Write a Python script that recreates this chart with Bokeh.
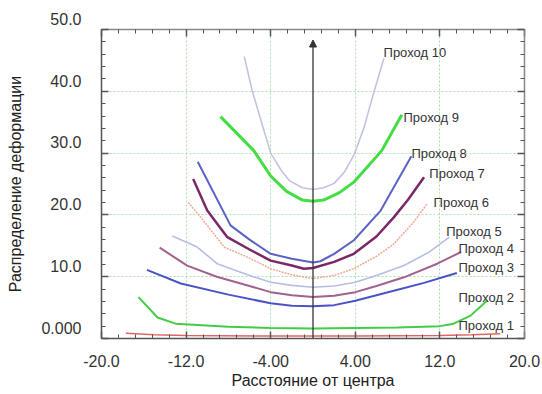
from bokeh.plotting import figure
from bokeh.models import (FixedTicker, LinearAxis, Range1d, Arrow,
                          NormalHead, ColumnDataSource)
from bokeh.core.properties import value
from bokeh.embed import file_html
from bokeh.resources import INLINE

# ---------------- data ----------------
p1_x = [-17.7, -15, -12, -4, 0, 4, 12, 15, 17.7]
p1_y = [0.85, 0.6, 0.5, 0.4, 0.4, 0.4, 0.5, 0.6, 0.75]
p2_x = [-16.5, -14.7, -13.0, -8, -4, 0, 4, 8, 12, 13.3, 14.9, 16.5]
p2_y = [6.7, 3.4, 2.4, 1.9, 1.7, 1.6, 1.7, 1.8, 2.0, 2.4, 3.7, 6.2]
p3_x = [-15.7, -12.5, -8, -4, -2, 0, 2, 4, 8, 10.5, 13.6]
p3_y = [11.1, 8.9, 7.1, 5.7, 5.3, 5.2, 5.4, 6.1, 7.9, 9.0, 10.6]
p4_x = [-14.5, -11.9, -9.1, -6, -4, -2, 0, 2, 4, 6, 8.6, 11.75, 14.0]
p4_y = [14.7, 11.8, 10.0, 8.5, 7.5, 7.0, 6.7, 6.9, 7.5, 8.5, 9.9, 12.1, 14.0]
p5_x = [-13.3, -10.95, -9.06, -6, -4, -2, 0, 2, 4, 6, 8.6, 11, 12.9]
p5_y = [16.6, 14.8, 12.1, 10.2, 9.1, 8.6, 8.3, 8.5, 9.1, 10.2, 11.8, 14.0, 16.4]
p6_x = [-11.8, -10.6, -8.4, -6, -4, -2, 0, 2, 3.86, 6, 7.64, 9.5, 10.8]
p6_y = [22.0, 19.6, 14.8, 13.0, 11.3, 10.3, 9.7, 10.2, 11.3, 13.3, 15.3, 18.8, 21.8]
p7_x = [-11.33, -10.0, -8.1, -6, -4, -2, -0.87, 0, 2, 3.86, 6, 7.64, 9, 10.5]
p7_y = [25.8, 20.7, 16.4, 14.4, 12.6, 11.8, 11.3, 11.4, 12.4, 13.7, 16.5, 19.6, 22.5, 26.1]
p8_x = [-10.9, -7.8, -6, -4, -2, 0, 0.7, 2, 3.86, 6.4, 9.3]
p8_y = [28.6, 18.3, 16.0, 13.7, 12.9, 12.3, 12.5, 13.7, 15.9, 20.7, 29.5]
p9_x = [-8.75, -5.6, -4, -2.5, -1, 0, 1, 2.5, 3.86, 6.5, 8.4]
p9_y = [35.9, 30.4, 26.3, 23.8, 22.4, 22.2, 22.4, 23.6, 25.3, 30.4, 36.2]
p10_x = [-6.5, -5.75, -4.8, -4.0, -3.0, -2.2, -1, 0, 1, 2, 3, 3.9, 4.8, 5.7, 6.7]
p10_y = [45.6, 40.1, 34.6, 30.0, 27.2, 25.5, 24.4, 24.1, 24.4, 25.1, 27.0, 29.8, 34.0, 39.5, 45.3]

series_names = ["Проход 1", "Проход 2", "Проход 3", "Проход 4", "Проход 5",
                "Проход 6", "Проход 7", "Проход 8", "Проход 9", "Проход 10"]
label_x = [13.76, 13.76, 13.76, 13.76, 12.6, 11.4, 11.0, 9.31, 8.56, 6.67]
label_y = [2.1, 6.6, 11.5, 14.6, 17.3, 22.0, 26.7, 29.9, 35.8, 46.3]

x_ticks = [-20, -12, -4, 4, 12, 20]
x_tick_labels = ["-20.0", "-12.0", "-4.00", "4.00", "12.0", "20.0"]
y_ticks = [0, 10, 20, 30, 40, 50]
y_tick_labels = ["0.000", "10.0", "20.0", "30.0", "40.0", "50.0"]

arrow_x = 0
arrow_y0 = 0
arrow_y1 = 48.3

# ---------------- styles ----------------
FONT = "Liberation Sans"
colors = ["#e06464", "#44cc44", "#4a52c8", "#a0628e", "#b6bee6",
          "#f0a894", "#7a2868", "#5a62c4", "#44dd44", "#c2c2e2"]
widths = [1.5, 2, 2, 2, 1.6, 1.5, 2.5, 2, 3, 1.6]
dashes = ["solid", "solid", "solid", "solid", "solid",
          "2 1", "solid", "solid", "solid", "solid"]

p = figure(width=542, height=394, x_range=Range1d(-20, 20), y_range=Range1d(0, 50),
           output_backend="svg", toolbar_location=None,
           x_axis_location=None, y_axis_location=None,
           min_border_left=101, min_border_right=18, min_border_top=29,
           min_border_bottom=56)
p.outline_line_color = "#777777"
p.background_fill_color = "white"
p.border_fill_color = "white"

minor_x = [round(-20 + 1.6 * i, 2) for i in range(26)]
minor_y = [2 * i for i in range(26)]

bottom = LinearAxis()
left = LinearAxis()
top = LinearAxis()
right = LinearAxis()
p.add_layout(bottom, "below")
p.add_layout(left, "left")
p.add_layout(top, "above")
p.add_layout(right, "right")

for ax in [bottom, top]:
    ax.ticker = FixedTicker(ticks=x_ticks, minor_ticks=minor_x)
for ax in [left, right]:
    ax.ticker = FixedTicker(ticks=y_ticks, minor_ticks=minor_y)

for ax in [bottom, top, left, right]:
    ax.major_tick_in = 7
    ax.major_tick_out = 0
    ax.minor_tick_in = 4
    ax.minor_tick_out = 0
    ax.axis_line_color = "#555555"
    ax.major_tick_line_color = "#555555"
    ax.minor_tick_line_color = "#555555"
    ax.axis_line_width = 1.5
    ax.major_tick_line_width = 1.5

top.major_label_overrides = {t: "" for t in x_ticks}
right.major_label_overrides = {t: "" for t in y_ticks}
for ax in [top, right]:
    ax.major_label_standoff = 0
    ax.axis_line_color = "#888888"

bottom.major_label_overrides = {t: s for t, s in zip(x_ticks, x_tick_labels)}
bottom.major_label_text_font = FONT
bottom.major_label_text_font_size = "16px"
bottom.major_label_text_color = "#333333"
bottom.major_label_standoff = 16
bottom.axis_label = "Расстояние от центра"
bottom.axis_label_text_font = FONT
bottom.axis_label_text_font_size = "16px"
bottom.axis_label_text_font_style = "normal"
bottom.axis_label_text_color = "#222222"
bottom.axis_label_standoff = 2

# y tick labels sit slightly above their ticks: an empty second line lifts them
left.major_label_overrides = {t: s + "\n" for t, s in zip(y_ticks, y_tick_labels)}
left.major_label_text_font = FONT
left.major_label_text_font_size = "16px"
left.major_label_text_color = "#333333"
left.major_label_standoff = 20
left.axis_label = "Распределение деформации"
left.axis_label_text_font = FONT
left.axis_label_text_font_size = "16px"
left.axis_label_text_font_style = "normal"
left.axis_label_text_color = "#222222"
left.axis_label_standoff = 14

p.xgrid.ticker = FixedTicker(ticks=x_ticks[1:-1])
p.ygrid.ticker = FixedTicker(ticks=y_ticks[1:-1])
for g in [p.xgrid[0], p.ygrid[0]]:
    g.grid_line_color = "#a6e2a6"
    g.grid_line_dash = "2 2"
    g.grid_line_width = 1

xs = [p1_x, p2_x, p3_x, p4_x, p5_x, p6_x, p7_x, p8_x, p9_x, p10_x]
ys = [p1_y, p2_y, p3_y, p4_y, p5_y, p6_y, p7_y, p8_y, p9_y, p10_y]
for x, y, c, w, d in zip(xs, ys, colors, widths, dashes):
    p.line(x, y, line_color=c, line_width=w, line_dash=d)

p.add_layout(Arrow(end=NormalHead(size=7, fill_color="#333333", line_color="#333333"),
                   x_start=arrow_x, y_start=arrow_y0, x_end=arrow_x, y_end=arrow_y1,
                   line_color="#333333", line_width=1.3))

src = ColumnDataSource(dict(x=label_x, y=label_y, t=series_names))
p.text(x="x", y="y", text="t", source=src, text_font=value(FONT),
       text_font_size="13px", text_color="#333333", text_baseline="middle",
       text_align="left")

open("out.html", "w").write(file_html(p, INLINE))
